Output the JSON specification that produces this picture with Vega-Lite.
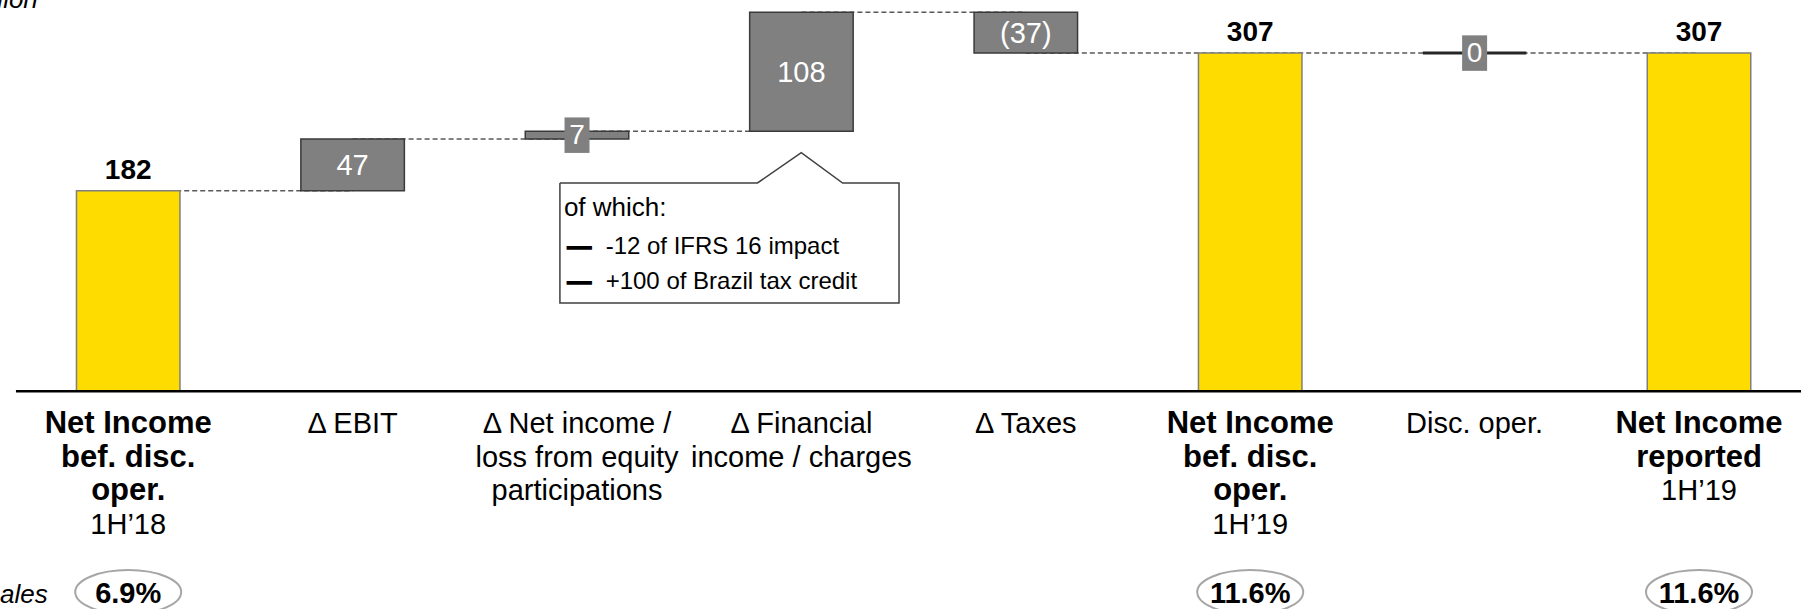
{
  "$schema": "https://vega.github.io/schema/vega-lite/v6.json",
  "width": 1806,
  "height": 609,
  "autosize": {"type": "none"},
  "padding": 0,
  "background": "white",
  "config": {"view": {"stroke": null}, "axis": {"disable": true}, "font": "Liberation Sans"},
  "datasets": {
    "steps": [
      {"i": 0, "kind": "total", "start": 0, "end": 182, "lbl": "182", "name": ["Net Income", "bef. disc.", "oper."], "bold": true, "period": "1H’18", "pct": "6.9%"},
      {"i": 1, "kind": "delta", "start": 182, "end": 229, "lbl": "47", "name": ["Δ EBIT"], "bold": false},
      {"i": 2, "kind": "small", "start": 229, "end": 236, "lbl": "7", "name": ["Δ Net income /", "loss from equity", "participations"], "bold": false},
      {"i": 3, "kind": "delta", "start": 236, "end": 344, "lbl": "108", "name": ["Δ Financial", "income / charges"], "bold": false},
      {"i": 4, "kind": "delta", "start": 344, "end": 307, "lbl": "(37)", "name": ["Δ Taxes"], "bold": false},
      {"i": 5, "kind": "total", "start": 0, "end": 307, "lbl": "307", "name": ["Net Income", "bef. disc.", "oper."], "bold": true, "period": "1H’19", "pct": "11.6%"},
      {"i": 6, "kind": "zero", "start": 307, "end": 307, "lbl": "0", "name": ["Disc. oper."], "bold": false},
      {"i": 7, "kind": "total", "start": 0, "end": 307, "lbl": "307", "name": ["Net Income", "reported"], "bold": true, "period": "1H’19", "pct": "11.6%"}
    ],
    "callout": [
      {"o": 0, "cx": 1.9238, "cy": 189.1},
      {"o": 1, "cx": 2.8043, "cy": 189.1},
      {"o": 2, "cx": 2.9993, "cy": 216.6},
      {"o": 3, "cx": 3.1837, "cy": 189.1},
      {"o": 4, "cx": 3.4350, "cy": 189.1},
      {"o": 5, "cx": 3.4350, "cy": 80.2},
      {"o": 6, "cx": 1.9238, "cy": 80.2},
      {"o": 7, "cx": 1.9238, "cy": 189.1}
    ],
    "one": [{}]
  },
  "layer": [
    {
      "data": {"name": "steps"},
      "transform": [
        {"window": [{"op": "lead", "field": "i", "as": "inext"}], "sort": [{"field": "i"}]},
        {"filter": "datum.inext != null"}
      ],
      "mark": {"type": "rule", "color": "#595959", "strokeWidth": 1.5, "strokeDash": [5, 3]},
      "encoding": {
        "x": {"field": "i", "type": "quantitative", "scale": {"domain": [-0.5491, 7.4545], "nice": false, "zero": false}, "axis": null},
        "x2": {"field": "inext"},
        "y": {"field": "end", "type": "quantitative", "scale": {"domain": [-197.6, 355.2], "nice": false, "zero": false}, "axis": null}
      }
    },
    {
      "data": {"name": "steps"},
      "transform": [{"filter": "datum.kind == 'total'"}],
      "mark": {"type": "bar", "width": 103.5, "fill": "#FFDC00", "stroke": "#7f7f7f", "strokeWidth": 1.5},
      "encoding": {
        "x": {"field": "i", "type": "quantitative"},
        "y": {"field": "start", "type": "quantitative"},
        "y2": {"field": "end"}
      }
    },
    {
      "data": {"name": "steps"},
      "transform": [{"filter": "datum.kind == 'delta' || datum.kind == 'small'"}],
      "mark": {"type": "bar", "width": 103.5, "fill": "#808080", "stroke": "#3a3a3a", "strokeWidth": 1.5},
      "encoding": {
        "x": {"field": "i", "type": "quantitative"},
        "y": {"field": "start", "type": "quantitative"},
        "y2": {"field": "end"}
      }
    },
    {
      "data": {"name": "steps"},
      "transform": [{"filter": "datum.kind == 'zero'"}],
      "mark": {"type": "bar", "width": 103.5, "fill": "#262626", "stroke": "#262626", "strokeWidth": 3},
      "encoding": {
        "x": {"field": "i", "type": "quantitative"},
        "y": {"field": "start", "type": "quantitative"},
        "y2": {"field": "end"}
      }
    },
    {
      "data": {"name": "one"},
      "mark": {"type": "rule", "color": "black", "strokeWidth": 2.5},
      "encoding": {
        "x": {"datum": -0.5003, "type": "quantitative"},
        "x2": {"datum": 7.4545},
        "y": {"datum": 0, "type": "quantitative"}
      }
    },
    {
      "data": {"name": "steps"},
      "transform": [{"filter": "datum.kind == 'delta'"}, {"fold": ["start", "end"], "as": ["k", "v"]}],
      "mark": {"type": "text", "color": "white", "fontSize": 29, "baseline": "middle", "align": "center", "dy": 1},
      "encoding": {
        "x": {"field": "i", "type": "quantitative"},
        "y": {"aggregate": "mean", "field": "v", "type": "quantitative"},
        "text": {"field": "lbl"}
      }
    },
    {
      "data": {"name": "steps"},
      "transform": [{"filter": "datum.kind == 'small' || datum.kind == 'zero'"}, {"fold": ["start", "end"], "as": ["k", "v"]}],
      "mark": {"type": "point", "shape": "M -1 -1.42 L 1 -1.42 L 1 1.42 L -1 1.42 Z", "size": 625, "filled": true, "fill": "#808080", "opacity": 1, "strokeWidth": 0},
      "encoding": {
        "x": {"field": "i", "type": "quantitative"},
        "y": {"aggregate": "mean", "field": "v", "type": "quantitative"}
      }
    },
    {
      "data": {"name": "steps"},
      "transform": [{"filter": "datum.kind == 'small' || datum.kind == 'zero'"}, {"fold": ["start", "end"], "as": ["k", "v"]}],
      "mark": {"type": "text", "color": "white", "fontSize": 28, "baseline": "middle", "align": "center", "dy": 1},
      "encoding": {
        "x": {"field": "i", "type": "quantitative"},
        "y": {"aggregate": "mean", "field": "v", "type": "quantitative"},
        "text": {"field": "lbl"}
      }
    },
    {
      "data": {"name": "steps"},
      "transform": [{"filter": "datum.kind == 'total'"}],
      "mark": {"type": "text", "color": "black", "fontSize": 28, "fontWeight": "bold", "baseline": "alphabetic", "align": "center", "dy": -12},
      "encoding": {
        "x": {"field": "i", "type": "quantitative"},
        "y": {"field": "end", "type": "quantitative"},
        "text": {"field": "lbl"}
      }
    },
    {
      "data": {"name": "steps"},
      "transform": [{"filter": "datum.bold"}],
      "mark": {"type": "text", "color": "black", "fontSize": 31, "fontWeight": "bold", "baseline": "alphabetic", "align": "center", "lineHeight": 33.5},
      "encoding": {
        "x": {"field": "i", "type": "quantitative"},
        "y": {"datum": -37.9, "type": "quantitative"},
        "text": {"field": "name"}
      }
    },
    {
      "data": {"name": "steps"},
      "transform": [{"filter": "!datum.bold"}],
      "mark": {"type": "text", "color": "black", "fontSize": 29, "baseline": "alphabetic", "align": "center", "lineHeight": 33.5},
      "encoding": {
        "x": {"field": "i", "type": "quantitative"},
        "y": {"datum": -37.9, "type": "quantitative"},
        "text": {"field": "name"}
      }
    },
    {
      "data": {"name": "steps"},
      "transform": [{"filter": "datum.i == 0 || datum.i == 5"}],
      "mark": {"type": "text", "color": "black", "fontSize": 29, "baseline": "alphabetic", "align": "center"},
      "encoding": {
        "x": {"field": "i", "type": "quantitative"},
        "y": {"datum": -129.2, "type": "quantitative"},
        "text": {"field": "period"}
      }
    },
    {
      "data": {"name": "steps"},
      "transform": [{"filter": "datum.i == 7"}],
      "mark": {"type": "text", "color": "black", "fontSize": 29, "baseline": "alphabetic", "align": "center"},
      "encoding": {
        "x": {"field": "i", "type": "quantitative"},
        "y": {"datum": -98.8, "type": "quantitative"},
        "text": {"field": "period"}
      }
    },
    {
      "data": {"name": "steps"},
      "transform": [{"filter": "datum.pct != null"}],
      "mark": {"type": "point", "shape": "M -1 0 A 1 0.415 0 1 0 1 0 A 1 0.415 0 1 0 -1 0 Z", "size": 11236, "filled": false, "stroke": "#a6a6a6", "strokeWidth": 2, "opacity": 1},
      "encoding": {
        "x": {"field": "i", "type": "quantitative"},
        "y": {"datum": -182.2, "type": "quantitative"}
      }
    },
    {
      "data": {"name": "steps"},
      "transform": [{"filter": "datum.pct != null"}],
      "mark": {"type": "text", "color": "black", "fontSize": 29, "fontWeight": "bold", "baseline": "alphabetic", "align": "center"},
      "encoding": {
        "x": {"field": "i", "type": "quantitative"},
        "y": {"datum": -192.2, "type": "quantitative"},
        "text": {"field": "pct"}
      }
    },
    {
      "data": {"name": "one"},
      "mark": {"type": "text", "text": "in % of sales", "color": "black", "fontSize": 26, "fontStyle": "italic", "baseline": "alphabetic", "align": "right"},
      "encoding": {
        "x": {"datum": -0.3586, "type": "quantitative"},
        "y": {"datum": -192.2, "type": "quantitative"}
      }
    },
    {
      "data": {"name": "one"},
      "mark": {"type": "text", "text": "€ million", "color": "black", "fontSize": 26, "fontStyle": "italic", "baseline": "alphabetic", "align": "right"},
      "encoding": {
        "x": {"datum": -0.4028, "type": "quantitative"},
        "y": {"datum": 347.5, "type": "quantitative"}
      }
    },
    {
      "data": {"name": "callout"},
      "mark": {"type": "line", "color": "#404040", "strokeWidth": 1.5, "strokeJoin": "miter"},
      "encoding": {
        "x": {"field": "cx", "type": "quantitative"},
        "y": {"field": "cy", "type": "quantitative"},
        "order": {"field": "o"}
      }
    },
    {
      "data": {"name": "one"},
      "mark": {"type": "text", "text": "of which:", "color": "black", "fontSize": 26, "baseline": "alphabetic", "align": "left"},
      "encoding": {
        "x": {"datum": 1.9415, "type": "quantitative"},
        "y": {"datum": 158.7, "type": "quantitative"}
      }
    },
    {
      "data": {"name": "one"},
      "mark": {"type": "text", "text": ["—", "—"], "color": "black", "fontSize": 24, "fontWeight": "bold", "stroke": "black", "strokeWidth": 1.4, "baseline": "alphabetic", "align": "left", "lineHeight": 35},
      "encoding": {
        "x": {"datum": 1.9560, "type": "quantitative"},
        "y": {"datum": 124.2, "type": "quantitative"}
      }
    },
    {
      "data": {"name": "one"},
      "mark": {"type": "text", "text": ["-12 of IFRS 16 impact", "+100 of Brazil tax credit"], "color": "black", "fontSize": 24, "baseline": "alphabetic", "align": "left", "lineHeight": 35},
      "encoding": {
        "x": {"datum": 2.1276, "type": "quantitative"},
        "y": {"datum": 124.2, "type": "quantitative"}
      }
    }
  ]
}
